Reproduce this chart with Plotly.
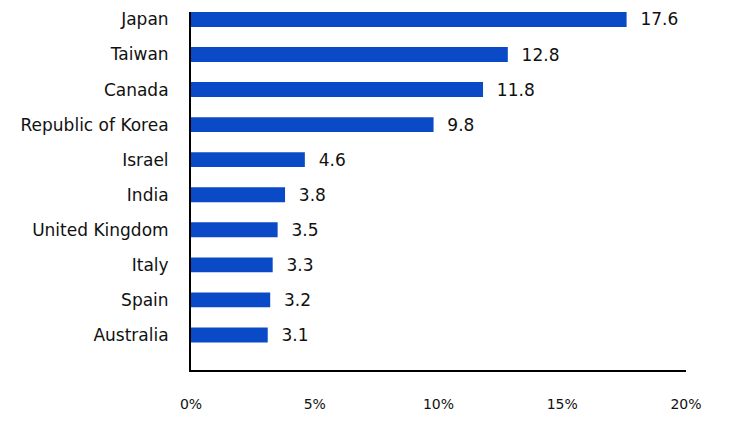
import plotly.graph_objects as go

countries = ["Japan", "Taiwan", "Canada", "Republic of Korea", "Israel", "India",
             "United Kingdom", "Italy", "Spain", "Australia"]
values = [17.6, 12.8, 11.8, 9.8, 4.6, 3.8, 3.5, 3.3, 3.2, 3.1]
x_ticks = [0, 5, 10, 15, 20]
x_tick_labels = ["0%", "5%", "10%", "15%", "20%"]

FONT = "DejaVu Sans"

fig = go.Figure(go.Bar(
    x=values, y=countries, orientation="h",
    marker=dict(color="#0a4ac6", line=dict(width=0)),
    width=0.425,
    text=[f"{v:.1f}" for v in values],
    texttemplate="  %{text}",
    textposition="outside",
    constraintext="none",
    textfont=dict(family=FONT, size=17, color="#111111"),
    cliponaxis=False,
))

fig.update_layout(
    width=732, height=444,
    margin=dict(l=191, r=46, t=9, b=74),
    plot_bgcolor="white", paper_bgcolor="white",
    showlegend=False,
    font=dict(family=FONT, color="#111111"),
)
fig.update_xaxes(
    range=[0, 20], tickvals=x_ticks, ticktext=x_tick_labels,
    showgrid=False, zeroline=False, showline=True, linecolor="black", linewidth=2,
    ticks="", ticklabelstandoff=20, tickfont=dict(family=FONT, size=14, color="#111111"),
)
fig.update_yaxes(
    categoryorder="array", categoryarray=countries,
    range=[10, -0.2125],
    showgrid=False, zeroline=False, showline=True, linecolor="black", linewidth=2,
    ticks="", ticklabelstandoff=17, tickfont=dict(family=FONT, size=17, color="#111111"),
)

fig.write_html("out.html")
